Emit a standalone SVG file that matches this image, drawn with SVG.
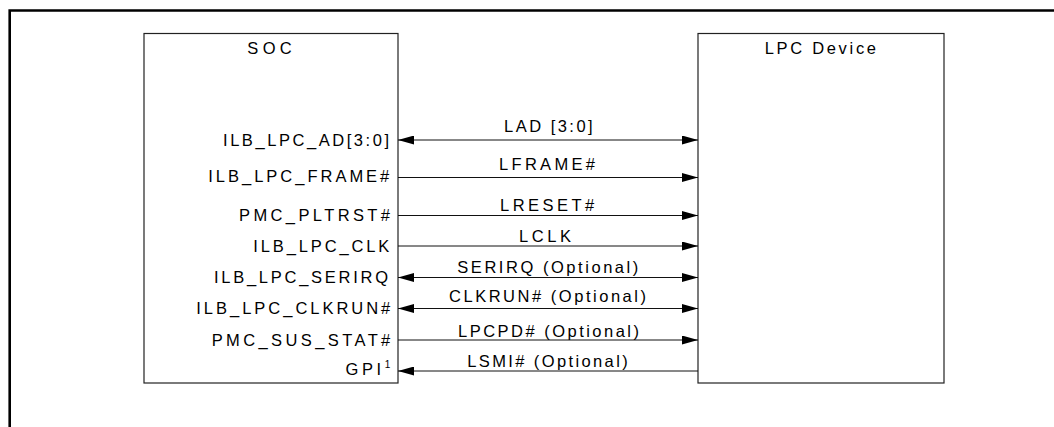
<svg xmlns="http://www.w3.org/2000/svg" width="1054" height="427" viewBox="0 0 1054 427">
<style>
  text { font-family: "Liberation Sans", Arial, sans-serif; font-size: 16.5px; fill: #000; }
  .box { fill: #fff; stroke: #222; stroke-width: 1.2; }
  .sig { stroke: #111; stroke-width: 1; fill: none; }
  .frame { stroke: #000; stroke-width: 2.6; fill: none; }
</style>
<defs>
  <marker id="arr" viewBox="0 0 16 9" markerWidth="16" markerHeight="9" refX="16" refY="4.5" orient="auto-start-reverse" markerUnits="userSpaceOnUse">
    <path d="M0,0 L16,4.5 L0,9 Z" fill="#000"/>
  </marker>
</defs>
<path class="frame" d="M9.7,427 L9.7,10.5 L1054,10.5"/>

<g id="soc">
  <rect class="box" x="144" y="33.5" width="254" height="349.5"/>
  <text x="247.3" y="54" textLength="44.4" lengthAdjust="spacing">SOC</text>
  <text x="223" y="146" textLength="166" lengthAdjust="spacing">ILB_LPC_AD[3:0]</text>
  <text x="208.3" y="181.7" textLength="181" lengthAdjust="spacing">ILB_LPC_FRAME#</text>
  <text x="239" y="220.7" textLength="151" lengthAdjust="spacing">PMC_PLTRST#</text>
  <text x="253.3" y="251.7" textLength="136" lengthAdjust="spacing">ILB_LPC_CLK</text>
  <text x="214" y="282.7" textLength="174" lengthAdjust="spacing">ILB_LPC_SERIRQ</text>
  <text x="196.3" y="313.5" textLength="194" lengthAdjust="spacing">ILB_LPC_CLKRUN#</text>
  <text x="211.7" y="345.5" textLength="178.6" lengthAdjust="spacing">PMC_SUS_STAT#</text>
  <text x="345.5" y="374.5" letter-spacing="3.6">GPI<tspan dy="-6.5" font-size="10px" letter-spacing="0">1</tspan></text>
</g>

<g id="lpc">
  <rect class="box" x="698" y="33.5" width="246" height="349.5"/>
  <text x="764.7" y="54" textLength="111.3" lengthAdjust="spacing">LPC Device</text>
</g>

<g id="connectors">
  <line class="sig" x1="398" y1="140" x2="698" y2="140" marker-start="url(#arr)" marker-end="url(#arr)"/>
  <line class="sig" x1="398" y1="177.5" x2="698" y2="177.5" marker-end="url(#arr)"/>
  <line class="sig" x1="398" y1="215.5" x2="698" y2="215.5" marker-end="url(#arr)"/>
  <line class="sig" x1="398" y1="246" x2="698" y2="246" marker-end="url(#arr)"/>
  <line class="sig" x1="398" y1="277.5" x2="698" y2="277.5" marker-start="url(#arr)" marker-end="url(#arr)"/>
  <line class="sig" x1="398" y1="308.5" x2="698" y2="308.5" marker-start="url(#arr)" marker-end="url(#arr)"/>
  <line class="sig" x1="398" y1="340" x2="698" y2="340" marker-end="url(#arr)"/>
  <line class="sig" x1="698" y1="371" x2="398" y2="371" marker-end="url(#arr)"/>

  <text x="504" y="132.3" textLength="88.7" lengthAdjust="spacing">LAD [3:0]</text>
  <text x="499" y="170" textLength="96" lengthAdjust="spacing">LFRAME#</text>
  <text x="500" y="211" textLength="94.3" lengthAdjust="spacing">LRESET#</text>
  <text x="519" y="242" textLength="52" lengthAdjust="spacing">LCLK</text>
  <text x="457.3" y="273.3" textLength="181" lengthAdjust="spacing">SERIRQ (Optional)</text>
  <text x="449" y="301.7" textLength="197" lengthAdjust="spacing">CLKRUN# (Optional)</text>
  <text x="458" y="336.7" textLength="181" lengthAdjust="spacing">LPCPD# (Optional)</text>
  <text x="467.3" y="367.3" textLength="160.4" lengthAdjust="spacing">LSMI# (Optional)</text>
</g>
</svg>
